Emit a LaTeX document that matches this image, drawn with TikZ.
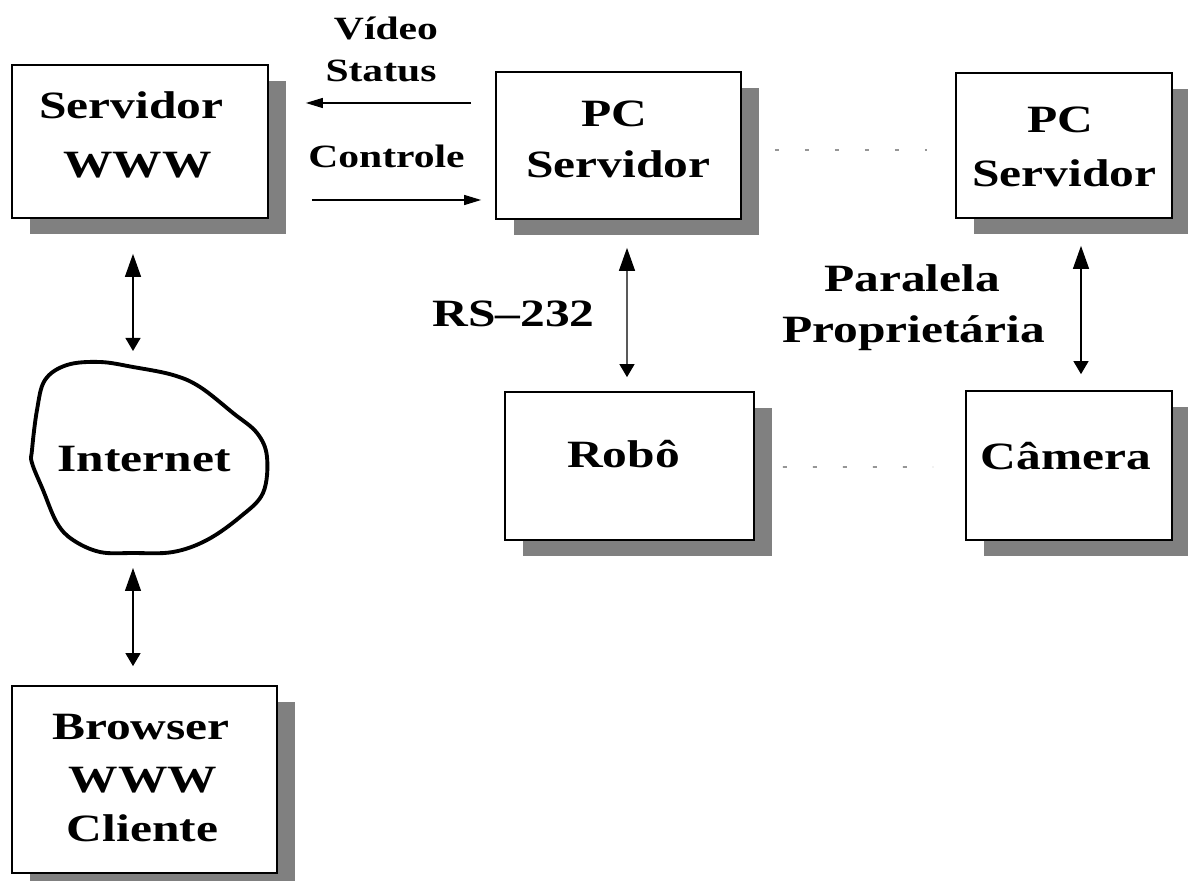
\documentclass[tikz,border=0pt]{standalone}
\usepackage{fontspec}
\setmainfont{Liberation Serif}[FakeStretch=1.28]
\usetikzlibrary{arrows.meta,calc,shadows}
\definecolor{shadowgray}{RGB}{128,128,128}
\definecolor{dotgray}{RGB}{150,150,150}
\begin{document}
\begin{tikzpicture}[x=0.02cm,y=-0.02cm,
  box/.style={draw=black, fill=white, line width=1pt, inner sep=0pt,
    general shadow={fill=shadowgray, shadow xshift=0.36cm, shadow yshift=-0.32cm}},
  lbl/.style={anchor=base, inner sep=0pt, font=\fontsize{22}{26}\selectfont\bfseries},
  slbl/.style={anchor=base, inner sep=0pt, font=\fontsize{18.5}{22}\selectfont\bfseries},
  harrow/.style={line width=0.7pt, -{Triangle[length=0.34cm,width=0.2cm]}},
  varrow/.style={line width=0.7pt,
    {Triangle[length=0.46cm,width=0.32cm]}-{Triangle[length=0.26cm,width=0.3cm]}},
  dotline/.style={draw=dotgray, line width=0.9pt, dash pattern=on 0.08cm off 0.52cm}]
\useasboundingbox (0,0) rectangle (1188,881);
\clip (0,0) rectangle (1188,881);

% boxes
\node[box, minimum width=5.12cm, minimum height=3.06cm] (srv)    at (140,141.5)  {};
\node[box, minimum width=4.90cm, minimum height=2.94cm] (pc1)    at (618.5,145.5) {};
\node[box, minimum width=4.32cm, minimum height=2.90cm] (pc2)    at (1064,145.5) {};
\node[box, minimum width=4.98cm, minimum height=2.96cm] (robo)   at (629.5,466)  {};
\node[box, minimum width=4.12cm, minimum height=2.98cm] (camera) at (1069,465.5) {};
\node[box, minimum width=5.30cm, minimum height=3.74cm] (browser) at (144.5,779.5) {};

% the Internet cloud
\draw[line width=2.2pt] plot[smooth cycle, tension=0.6] coordinates {
  (32,450) (37,410) (45,380) (67,365) (100,362) (133,367) (173,375)
  (200,387) (233,413) (257,433) (267,457) (263,493) (240,517) (207,540)
  (173,552) (133,553) (100,552) (73,540) (57,523) (43,490) (32,463)};
\coordinate (inettop) at (133,364);
\coordinate (inetbot) at (133,553);

% box texts
\node[lbl] (srvA) at (131.5,119) {Servidor};
\node[lbl] (srvB) at (137.5,178) {WWW};
\node[lbl] (pc1A) at (614,127) {PC};
\node[lbl] (pc1B) at (618.5,178) {Servidor};
\node[lbl] (pc2A) at (1060,133) {PC};
\node[lbl] (pc2B) at (1064.5,187) {Servidor};
\node[lbl] (roboT) at (623.5,468) {Robô};
\node[lbl] (camT) at (1066,470) {Câmera};
\node[lbl] (inetT) at (144,472) {Internet};
\node[lbl] (brA) at (141,740) {Browser};
\node[lbl] (brB) at (143,793) {WWW};
\node[lbl] (brC) at (142.5,842) {Cliente};

% link labels
\node[slbl] (vid) at (386,40) {Vídeo};
\node[slbl] (sta) at (381,82) {Status};
\node[slbl] (ctl) at (386.5,168) {Controle};
\node[lbl] (rs) at (513.5,327) {RS--232};
\node[lbl] (parA) at (912,292) {Paralela};
\node[lbl] (parB) at (913.5,343) {Proprietária};

% connectors
\draw[harrow] ($(pc1.west)+(-24,-42.5)$) -- ($(srv.east)+(37,-38.5)$);
\draw[harrow] ($(srv.east)+(43,58.5)$) -- ($(pc1.west)+(-14,54.5)$);
\draw[varrow] ($(srv.south)+(-7,35)$) -- ($(inettop)+(0,-13)$);
\draw[varrow] ($(inetbot)+(0,15)$) -- ($(browser.north)+(-11.5,-19)$);
\draw[varrow] ($(pc1.south)+(8.5,28)$) -- ($(robo.north)+(-2.5,-14)$);
\draw[varrow] ($(pc2.south)+(17,27)$) -- ($(camera.north)+(12,-16)$);
\draw[dotline] ($(pc1.east)+(33,4.5)$) -- ($(pc2.west)+(-28,4.5)$);
\draw[dotline] ($(robo.east)+(28,1)$) -- ($(camera.west)+(-32,1.5)$);
\end{tikzpicture}
\end{document}
